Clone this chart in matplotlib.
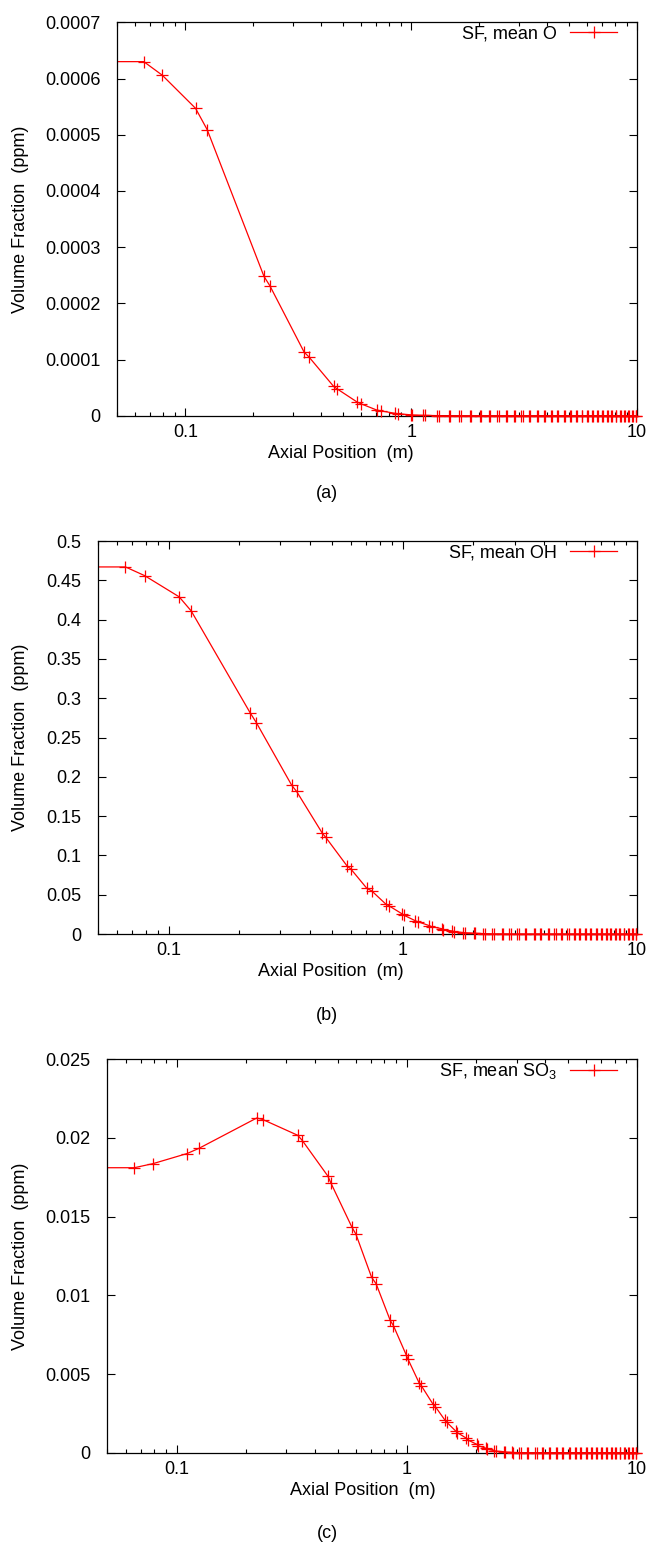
# species volume fraction along the axis, three panels (O, OH, SO3)

import numpy as np
import matplotlib
matplotlib.use('Agg')
import matplotlib.pyplot as plt
from matplotlib.ticker import FixedLocator, NullFormatter, FuncFormatter
from matplotlib.lines import Line2D

plt.rcParams['font.family'] = ['Liberation Sans', 'DejaVu Sans']
plt.rcParams['mathtext.fontset'] = 'custom'
plt.rcParams['mathtext.rm'] = 'Liberation Sans'

# axial grid (m), first point sits left of the plotted range
x_pos = [0.03,
         0.0655, 0.079, 0.111, 0.125, 0.223, 0.237, 0.336, 0.352, 0.454, 0.469,
         0.578, 0.601, 0.703, 0.736, 0.847, 0.875, 0.995, 1.01, 1.129, 1.157,
         1.30, 1.33, 1.466, 1.49, 1.63, 1.66, 1.815, 1.84, 2.01, 2.04,
         2.21, 2.24, 2.40, 2.44, 2.64, 2.67, 2.85, 2.89, 3.08, 3.12,
         3.32, 3.36, 3.62, 3.66, 3.87, 3.91, 4.15, 4.19, 4.44, 4.49,
         4.74, 4.79, 5.05, 5.10, 5.36, 5.41, 5.68, 5.73, 6.00, 6.06,
         6.33, 6.39, 6.66, 6.72, 7.00, 7.06, 7.35, 7.41, 7.70, 7.76,
         8.05, 8.11, 8.40, 8.47, 8.77, 8.84, 9.13, 9.20, 9.50, 9.57,
         9.87, 9.94]

y_O = [0.00063,
       0.00063, 0.000606, 0.000547, 0.000509, 0.000248, 0.000231, 0.000113, 0.000105, 0.000052, 0.000048,
       0.000024, 0.000021, 0.0000102, 0.0000085, 0.0000043, 0.0000035, 0.0000016, 0.0000013, 0.0000006, 0.0000005,
       0.0000002, 0.00000015, 0.00000007, 0.00000005, 0.0, 0.0, 0.0, 0.0, 0.0, 0.0,
       0.0, 0.0, 0.0, 0.0, 0.0, 0.0, 0.0, 0.0, 0.0, 0.0,
       0.0, 0.0, 0.0, 0.0, 0.0, 0.0, 0.0, 0.0, 0.0, 0.0,
       0.0, 0.0, 0.0, 0.0, 0.0, 0.0, 0.0, 0.0, 0.0, 0.0,
       0.0, 0.0, 0.0, 0.0, 0.0, 0.0, 0.0, 0.0, 0.0, 0.0,
       0.0, 0.0, 0.0, 0.0, 0.0, 0.0, 0.0, 0.0, 0.0, 0.0,
       0.0, 0.0]

y_OH = [0.467,
        0.467, 0.456, 0.429, 0.411, 0.2815, 0.269, 0.189, 0.1815, 0.128, 0.123,
        0.0867, 0.0825, 0.058, 0.055, 0.038, 0.0357, 0.0255, 0.024, 0.017, 0.0157,
        0.0106, 0.0093, 0.0068, 0.0055, 0.0038, 0.003, 0.0019, 0.0016, 0.001, 0.0009,
        0.0005, 0.0004, 0.0002, 0.00015, 0.0001, 0.00008, 0.00004, 0.00003, 0.00001, 0.00001,
        0.0, 0.0, 0.0, 0.0, 0.0, 0.0, 0.0, 0.0, 0.0, 0.0,
        0.0, 0.0, 0.0, 0.0, 0.0, 0.0, 0.0, 0.0, 0.0, 0.0,
        0.0, 0.0, 0.0, 0.0, 0.0, 0.0, 0.0, 0.0, 0.0, 0.0,
        0.0, 0.0, 0.0, 0.0, 0.0, 0.0, 0.0, 0.0, 0.0, 0.0,
        0.0, 0.0]

y_SO3 = [0.01811,
         0.01811, 0.01837, 0.01901, 0.01934, 0.02127, 0.02117, 0.02017, 0.01983, 0.01758, 0.01711,
         0.01432, 0.01389, 0.01115, 0.01073, 0.00841, 0.00807, 0.0062, 0.00597, 0.00446, 0.00425,
         0.00308, 0.00293, 0.00206, 0.00194, 0.00138, 0.00127, 0.00092, 0.00081, 0.00054, 0.00045,
         0.00028, 0.00022, 0.00013, 0.0001, 0.00006, 0.00004, 0.00002, 0.00001, 0.000005, 0.000003,
         0.0, 0.0, 0.0, 0.0, 0.0, 0.0, 0.0, 0.0, 0.0, 0.0,
         0.0, 0.0, 0.0, 0.0, 0.0, 0.0, 0.0, 0.0, 0.0, 0.0,
         0.0, 0.0, 0.0, 0.0, 0.0, 0.0, 0.0, 0.0, 0.0, 0.0,
         0.0, 0.0, 0.0, 0.0, 0.0, 0.0, 0.0, 0.0, 0.0, 0.0,
         0.0, 0.0]

labels = ['SF, mean O', 'SF, mean OH', r'SF, mean $\mathregular{SO_3}$']
y_ticks = [[0, 0.0001, 0.0002, 0.0003, 0.0004, 0.0005, 0.0006, 0.0007],
           [0, 0.05, 0.1, 0.15, 0.2, 0.25, 0.3, 0.35, 0.4, 0.45, 0.5],
           [0, 0.005, 0.01, 0.015, 0.02, 0.025]]
captions = ['(a)', '(b)', '(c)']

W, H = 652, 1546
fig = plt.figure(figsize=(W / 100, H / 100), dpi=100)

# axes boxes in pixels: left, right, top, bottom
boxes = [(117.3, 637, 22.3, 415.7),
         (98, 637, 541, 934),
         (107.3, 637, 1059.3, 1452.7)]
ylab_x = [29, 29, 29]
xlab_cx = [341, 331, 363]
cap_y = [493, 1016, 1533]

fs = 13
x = np.array(x_pos)
for i, y in enumerate([y_O, y_OH, y_SO3]):
    l, r, t, b = boxes[i]
    ax = fig.add_axes([l / W, 1 - b / H, (r - l) / W, (b - t) / H])
    y = np.array(y)
    ax.plot(x, y, color='red', lw=0.9)
    ax.plot(x[1:], y[1:], ls='none', marker='+', ms=9, mew=0.9, color='red',
            clip_on=False, zorder=3)
    ax.set_xscale('log')
    ax.set_xlim(0.05, 10)
    ax.set_ylim(0, y_ticks[i][-1])
    ax.xaxis.set_major_locator(FixedLocator([0.1, 1, 10]))
    ax.xaxis.set_major_formatter(FuncFormatter(lambda v, p: '%g' % v))
    ax.xaxis.set_minor_locator(FixedLocator([k * 10.0 ** e for e in (-2, -1, 0) for k in range(2, 10)]))
    ax.xaxis.set_minor_formatter(NullFormatter())
    ax.yaxis.set_major_locator(FixedLocator(y_ticks[i]))
    ax.yaxis.set_major_formatter(FuncFormatter(lambda v, p: '%g' % v))
    ax.tick_params(which='both', direction='in', top=True, right=True, labelsize=fs,
                   color='black', width=0.8)
    ax.tick_params(which='major', length=6)
    ax.tick_params(axis='x', which='major', pad=6)
    ax.tick_params(axis='y', which='major', pad=12)
    ax.tick_params(which='minor', length=3)
    for s in ax.spines.values():
        s.set_linewidth(0.9)
    ax.set_xlabel('Axial Position  (m)', fontsize=fs)
    ax.xaxis.set_label_coords((xlab_cx[i] - l) / (r - l), -0.075)
    ax.set_ylabel('Volume Fraction  (ppm)', fontsize=fs)
    ax.yaxis.set_label_coords((ylab_x[i] - l) / (r - l), 0.5)

    h = Line2D([], [], color='red', lw=0.9, marker='+', ms=9, mew=0.9)
    ax.legend([h], [labels[i]], loc='center right', frameon=False, markerfirst=False,
              fontsize=fs, handlelength=2.6, handletextpad=0.72,
              borderpad=0, borderaxespad=0, numpoints=1,
              bbox_to_anchor=((617 - l) / (r - l), 1 - 12 / (b - t)))

    fig.text(327 / W, 1 - cap_y[i] / H, captions[i], ha='center', va='center', fontsize=fs)

fig.savefig('out.png', dpi=100)
